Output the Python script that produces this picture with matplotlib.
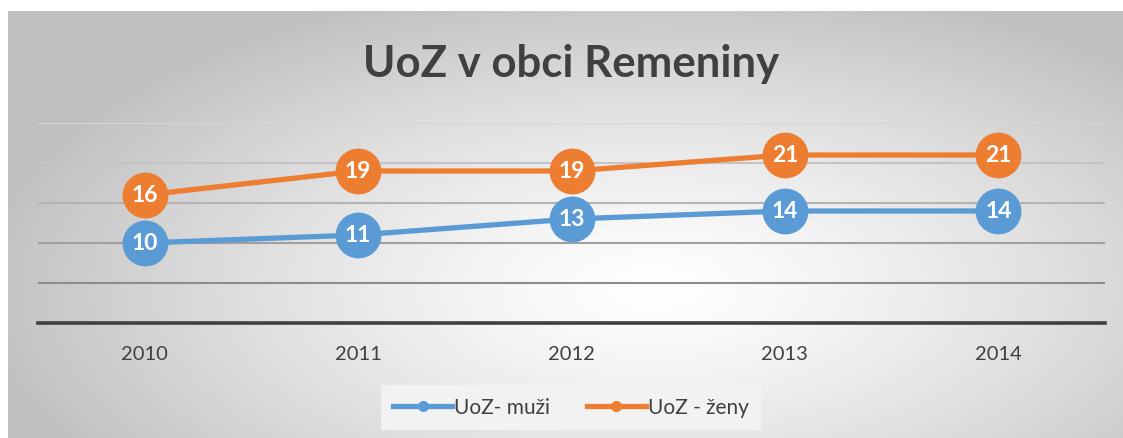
import numpy as np
import matplotlib
matplotlib.use("Agg")
import matplotlib.pyplot as plt
from matplotlib.lines import Line2D

plt.rcParams["font.family"] = ["Lato", "DejaVu Sans"]

# Data
years = ["2010", "2011", "2012", "2013", "2014"]
muzi = [10, 11, 13, 14, 14]
zeny = [16, 19, 19, 21, 21]
series_names = ["UoZ- muži", "UoZ - ženy"]
colors = ["#5B9BD5", "#ED7D31"]
title = "UoZ v obci Remeniny"

W, H = 1123, 439


def main():
    fig = plt.figure(figsize=(W / 100, H / 100), dpi=100)
    fig.patch.set_facecolor("white")

    # Radial gradient background of the chart area
    bg = fig.add_axes([8 / W, 0, 1 - 8 / W, (H - 12) / H])
    bg.set_axis_off()
    nx, ny = 400, 160
    xx, yy = np.meshgrid(np.linspace(0, 1, nx), np.linspace(0, 1, ny))
    r = np.sqrt(((xx - 0.58) / 0.62) ** 2 + ((yy - 0.35) / 0.75) ** 2)
    shade = 1.0 - 0.25 * np.clip(r, 0, 1) ** 1.3
    img = np.dstack([shade, shade, shade])
    bg.imshow(img, aspect="auto", extent=(0, 1, 0, 1), origin="lower")
    bg.set_xlim(0, 1)
    bg.set_ylim(0, 1)

    # Plot area
    ax = fig.add_axes([38 / W, (H - 324) / H, (1105 - 38) / W, 200 / H])
    ax.patch.set_alpha(0)
    x = np.arange(len(years))

    grid_colors = {5: "#8c8c8c", 10: "#a0a0a0", 15: "#b4b4b4", 20: "#c4c4c4", 25: "#d6d6d6"}
    for yv, c in grid_colors.items():
        ax.axhline(yv, color=c, lw=1.5, zorder=1)
    ax.axhline(0, color="#404040", lw=2.6, zorder=2, clip_on=False)

    for vals, c in zip([muzi, zeny], colors):
        ax.plot(x, vals, color=c, lw=3.8, marker="o", markersize=33,
                markeredgewidth=0, zorder=3, solid_capstyle="round")
        for xi, v in zip(x, vals):
            ax.text(xi, v, str(v), color="white", fontsize=16.5, fontweight="bold",
                    ha="center", va="center", zorder=4)

    ax.set_xlim(-0.5, len(years) - 0.5)
    ax.set_ylim(0, 25)
    ax.set_xticks(x)
    ax.set_xticklabels(years, fontsize=14.5, color="#404040")
    ax.tick_params(axis="x", length=0, pad=16)
    ax.set_yticks([])
    for s in ax.spines.values():
        s.set_visible(False)

    fig.text(571 / W, 1 - 64 / H, title, ha="center", va="center",
             fontsize=31.5, fontweight="bold", color="#404040")

    handles = [Line2D([0], [0], color=c, lw=3.8, marker="o", markersize=8,
                      markeredgewidth=0) for c in colors]
    leg = fig.legend(handles, series_names, loc="center",
                     bbox_to_anchor=(571 / W, 1 - 408 / H), ncol=2,
                     fontsize=15, frameon=True, fancybox=False,
                     handlelength=2.8, handletextpad=0.1, columnspacing=1.8,
                     borderpad=0.6, borderaxespad=0)
    leg.get_frame().set_facecolor("#f2f2f2")
    leg.get_frame().set_edgecolor("none")
    leg.get_frame().set_alpha(1)
    for t in leg.get_texts():
        t.set_color("#404040")

    fig.savefig("out.png", dpi=100)


if __name__ == "__main__":
    main()
